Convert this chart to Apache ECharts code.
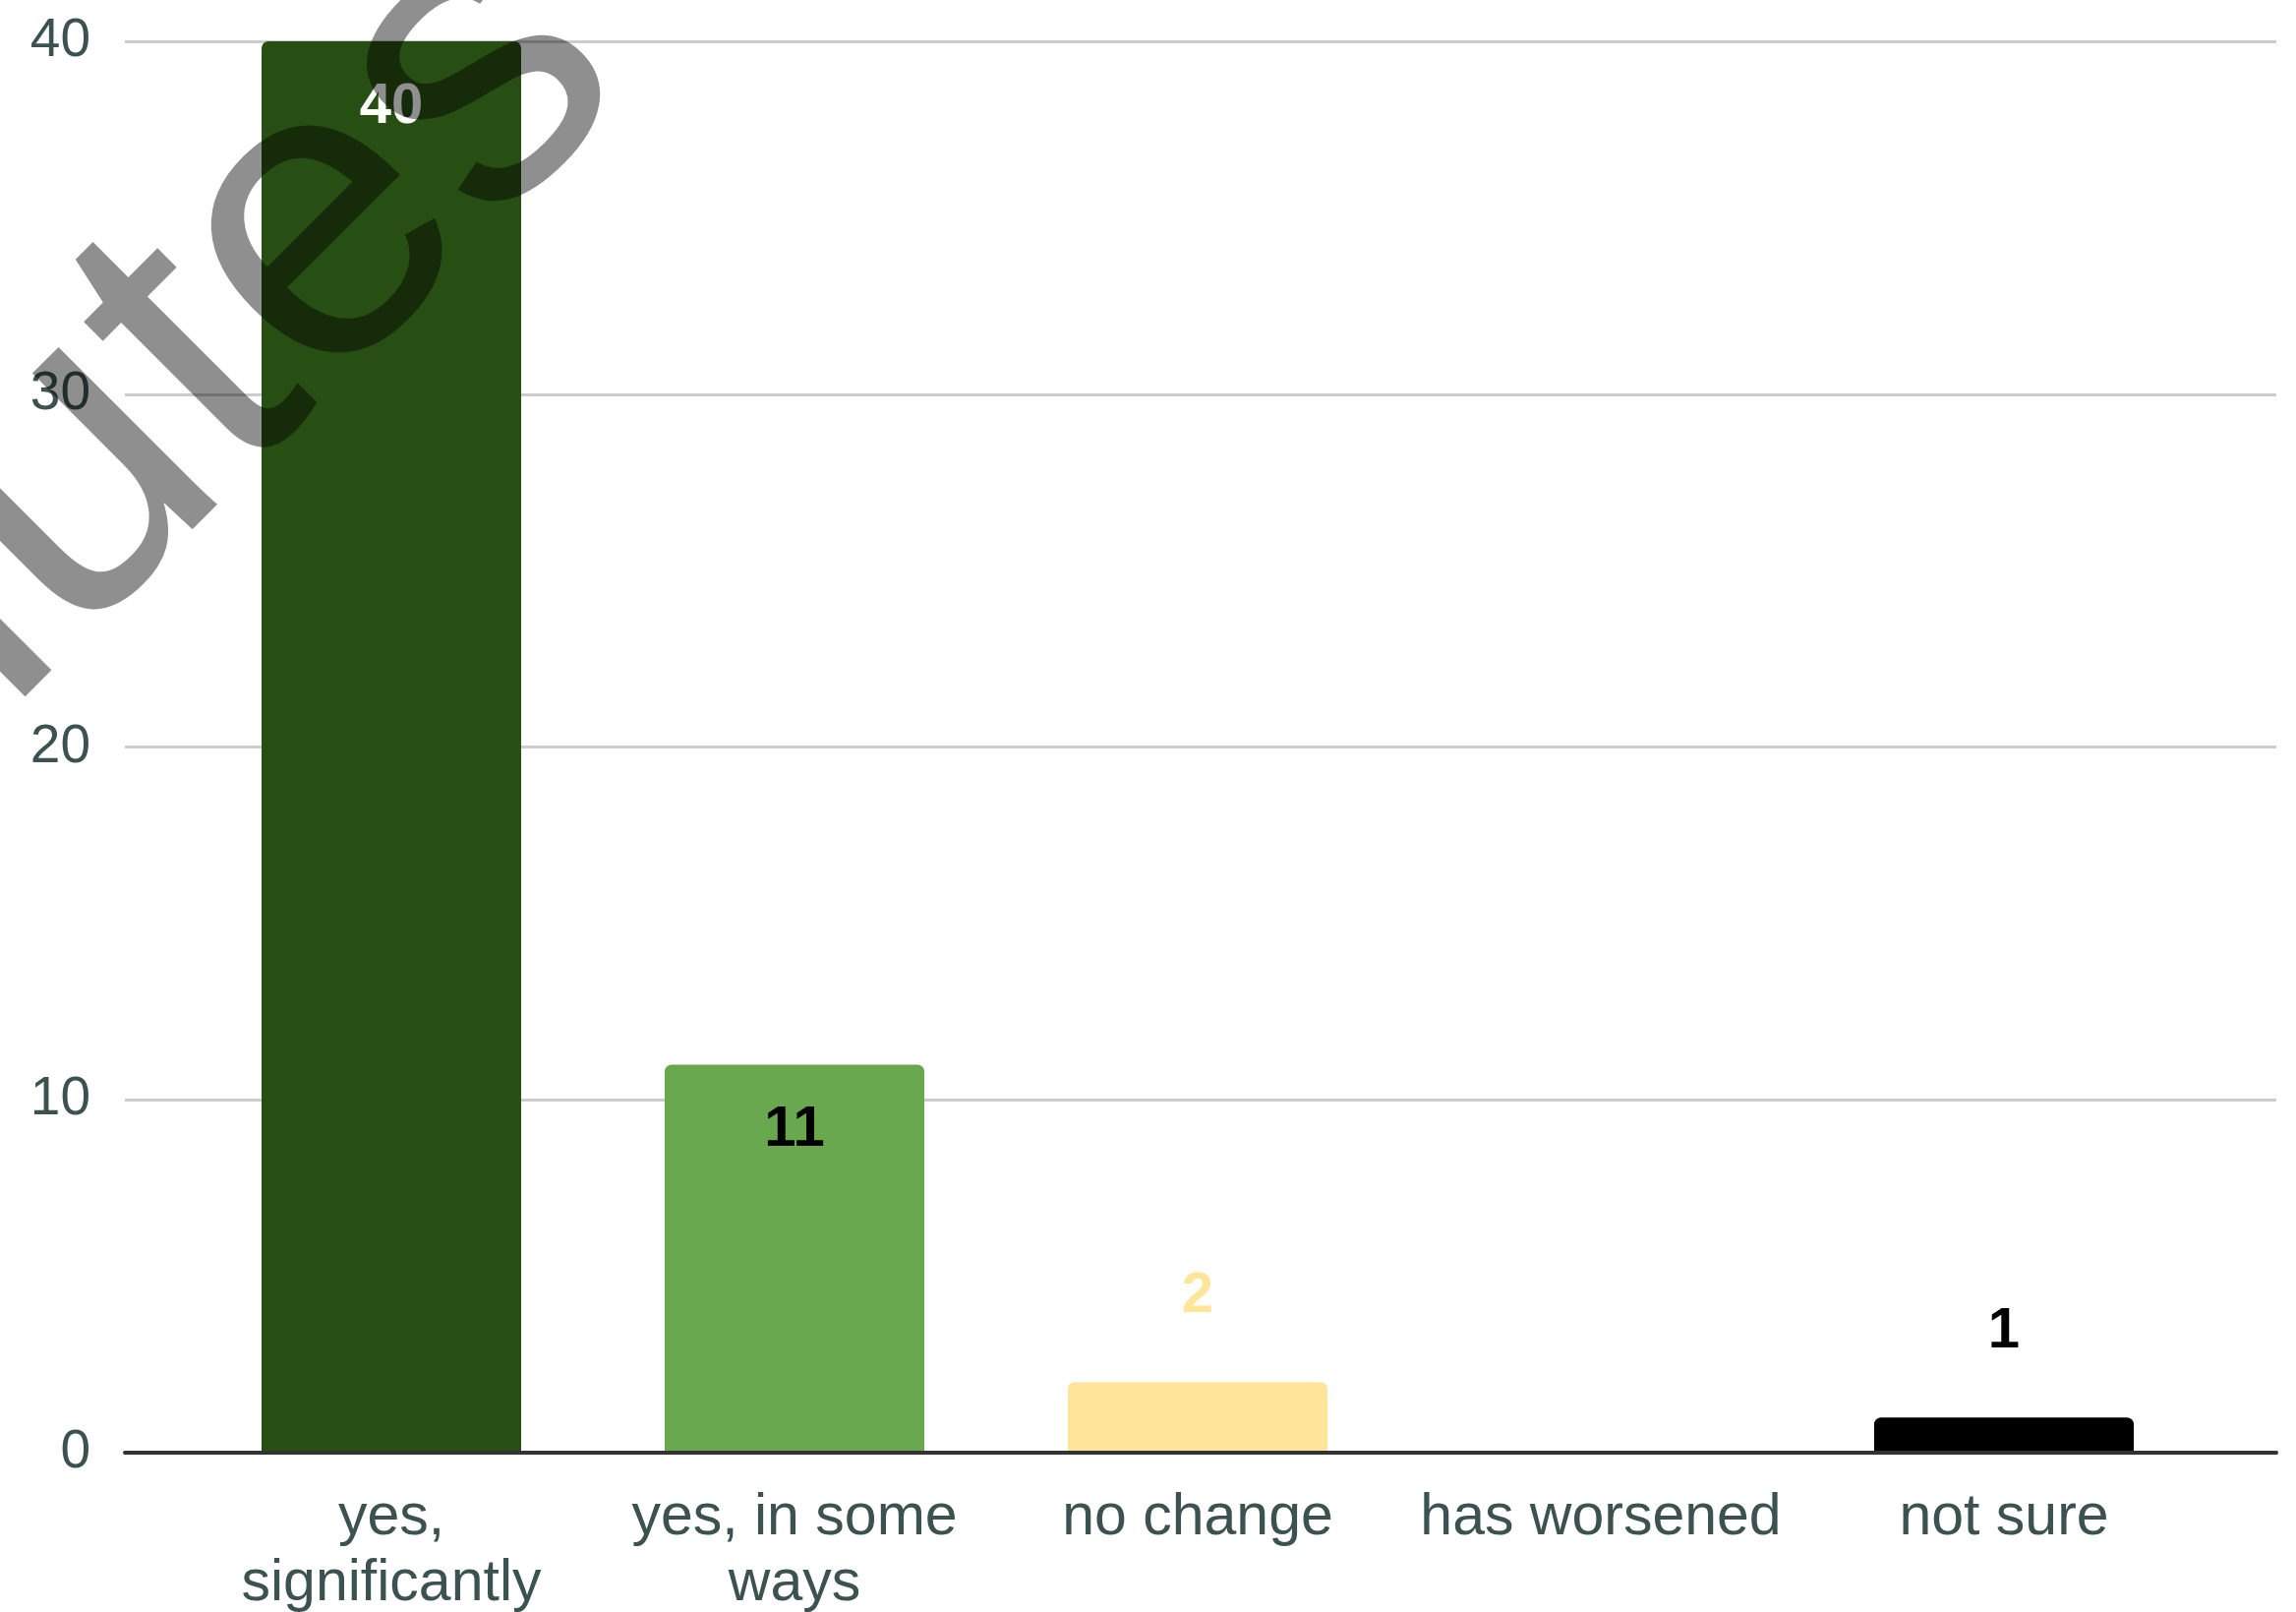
<!DOCTYPE html>
<html>
<head>
<meta charset="utf-8">
<script src="https://cdn.jsdelivr.net/npm/echarts@6/dist/echarts.min.js"></script>
<style>html,body{margin:0;padding:0;background:#fff;}#c{width:2335px;height:1639px;}</style>
</head>
<body>
<div id="c"></div>
<script>
const categories = ['yes,\nsignificantly', 'yes, in some\nways', 'no change', 'has worsened', 'not sure'];
const values = [40, 11, 2, 0, 1];
const barColors = ['#274e13', '#6aa84f', '#ffe599', '#b7b7b7', '#000000'];
const labelColors = ['#ffffff', '#000000', '#ffe599', '#000000', '#000000'];
const labelInside = [true, true, false, false, false];
const yTicks = [0, 10, 20, 30, 40];
const watermark = 'minutes';

const FONT = '"Liberation Sans", Arial, sans-serif';
const TXT = '#3b5250';

const chart = echarts.init(document.getElementById('c'), null, {renderer: 'canvas'});
const data = values.map((v, i) => ({
  value: v,
  itemStyle: {color: barColors[i], borderRadius: [7, 7, 0, 0]},
  label: {
    show: v > 0,
    position: labelInside[i] ? 'insideTop' : 'top',
    distance: labelInside[i] ? 38 : 58,
    color: labelColors[i]
  }
}));

chart.setOption({
  animation: false,
  backgroundColor: '#ffffff',
  grid: [
    {left: 127, right: 20, top: 42, bottom: 162, containLabel: false, outerBoundsMode: 'none'},
    {left: 193, right: 92, top: 42, bottom: 162, containLabel: false, outerBoundsMode: 'none'}
  ],
  xAxis: [
    {gridIndex: 0, type: 'category', data: [''], z: 5,
     axisLine: {show: true, lineStyle: {color: '#333333', width: 4}},
     axisTick: {show: false}, axisLabel: {show: false}, splitLine: {show: false}},
    {gridIndex: 1, type: 'category', data: categories,
     axisLine: {show: false}, axisTick: {show: false},
     axisLabel: {color: TXT, fontFamily: FONT, fontSize: 59, lineHeight: 67, margin: 33, interval: 0}}
  ],
  yAxis: [
    {gridIndex: 0, type: 'value', min: yTicks[0], max: yTicks[yTicks.length - 1], interval: 10,
     axisLine: {show: false}, axisTick: {show: false},
     axisLabel: {color: TXT, fontFamily: FONT, fontSize: 55, margin: 35},
     splitLine: {lineStyle: {color: '#cccccc', width: 3}}},
    {gridIndex: 1, type: 'value', min: yTicks[0], max: yTicks[yTicks.length - 1], interval: 10, show: false}
  ],
  series: [{
    type: 'bar', xAxisIndex: 1, yAxisIndex: 1, data: data,
    barWidth: 264,
    label: {fontFamily: FONT, fontSize: 58, fontWeight: 'bold'}
  }],
  graphic: [{
    type: 'text', x: 563, y: 3, rotation: Math.PI / 4, z: 100,
    style: {text: watermark, font: '430px ' + FONT, fill: 'rgba(0,0,0,0.44)', textAlign: 'right', textVerticalAlign: 'middle'}
  }]
});
</script>
</body>
</html>
